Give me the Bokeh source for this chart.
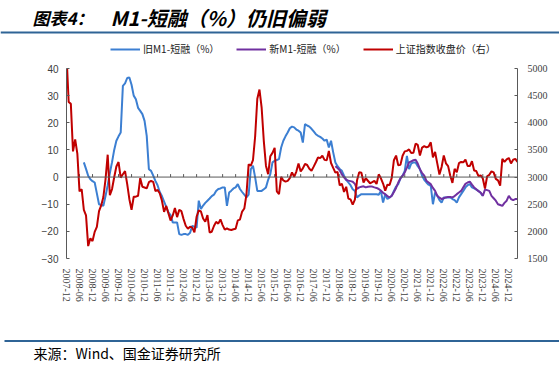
import math
import pandas as pd
from bokeh.plotting import figure
from bokeh.layouts import column
from bokeh.models import (Range1d, LinearAxis, FixedTicker, Label, Legend, LegendItem,
                          Span, BoxAnnotation, Plot)
from bokeh.embed import file_html
from bokeh.resources import INLINE

# ---------------- data ----------------
months = [d.strftime("%Y-%m") for d in pd.date_range("2007-12-01", "2025-04-01", freq="MS")]

old_start = "2008-08"
old_m1_tsf = [
    5.4, 3.0, 0.5, -0.8, -1.5, -2.0, -6.0, -10.0, -10.3, -10.6, -7.0, -3.0,
    1.5, 5.5, 10.0, 13.4, 15.0, 16.4, 33.6, 34.5, 36.5, 36.7, 34.0, 30.0,
    28.7, 25.5, 24.4, 23.2, 20.7, 15.2, 2.9, 2.3, 0.5, -1.4, -3.0, -5.5,
    -7.0, -9.0, -11.0, -13.0, -14.0, -16.7, -16.7, -16.7, -21.0, -21.3, -21.0, -21.0,
    -21.3, -20.5, -18.0, -18.3, -18.6, -8.7, -11.8, -10.5, -9.5, -8.7, -7.9, -7.0,
    -6.5, -5.1, -4.4, -4.2, -3.8, -3.8, -10.6, -5.7, -5.0, -4.2, -3.8, -2.6,
    -4.4, -5.5, -6.5, -7.5, -6.5, 2.9, 4.2, -0.1, -5.1, -5.1, -5.1, -4.5,
    -3.8, -1.0, 1.1, 5.4, 6.0, 6.3, 6.6, 10.9, 13.4, 15.0, 16.4, 18.0,
    18.6, 18.3, 17.5, 17.1, 16.4, 12.7, 19.5, 19.0, 18.6, 17.8, 16.8, 15.8,
    15.2, 14.8, 14.2, 13.4, 13.8, 10.9, 13.4, 9.1, 5.4, 4.0, 3.0, 2.3,
    0.5, -1.0, -2.0, -3.0, -4.5, -5.1, -7.5, -6.8, -6.3, -6.3, -6.3, -6.3,
    -6.3, -6.3, -6.3, -6.3, -6.5, -5.1, -9.4, -6.3, -8.1, -7.5, -6.9, -5.1,
    -3.5, -2.6, -0.5, 0.5, 2.3, 7.8, 2.9, 5.0, 5.4, 5.4, 4.0, 2.9,
    0.5, -1.0, -2.0, -2.8, -3.2, -10.0, -5.7, -6.9, -8.5, -9.4, -7.5, -7.5,
    -7.5, -7.5, -8.1, -8.5, -9.4, -7.5, -6.3, -5.1, -3.8, -3.0, -2.6, -3.8,
    -4.2, -4.6, -5.1, -5.8, -6.9,
]

new_start = "2018-04"
new_m1_tsf = [
    4.0, 3.3, 2.5, 1.0, -0.1, -1.0, -1.3, -1.5, -1.7, -2.5, -4.4, -3.8,
    -3.6, -3.4, -3.8, -3.6, -3.5, -3.5, -3.8, -4.0, -4.4, -5.0, -5.8, -6.3,
    -7.0, -7.5, -6.9, -5.5, -4.0, -2.0, -0.5, 0.5, 1.7, 3.5, 5.4, 5.8,
    6.2, 6.4, 5.0, 2.9, 1.5, 0.5, -1.4, -2.0, -2.6, -4.0, -5.1, -6.9,
    -7.6, -8.1, -7.8, -7.5, -7.3, -7.3, -7.5, -7.0, -6.3, -5.7, -5.1, -3.8,
    -2.5, -2.0, -1.7, -2.8, -3.8, -4.5, -5.2, -5.7, -6.9, -4.6, -4.8, -5.1,
    -6.9, -7.8, -8.7, -10.0, -10.3, -10.6, -9.5, -8.7, -6.9, -8.1, -8.5, -8.1,
    -8.1,
]

sh_close = [
    5261.6,
    4383.4, 4348.5, 3472.7, 3693.1, 3433.4, 2736.1, 2775.7, 2397.4, 2293.8, 1728.8, 1871.2, 1820.8,
    1990.7, 2082.9, 2373.2, 2477.6, 2632.9, 2959.4, 3412.1, 2667.7, 2779.4, 2995.9, 3195.3, 3277.1,
    2989.3, 3051.9, 3109.1, 2870.6, 2592.2, 2398.4, 2637.5, 2638.8, 2655.7, 2978.8, 2820.2, 2808.1,
    2790.7, 2905.1, 2928.1, 2911.5, 2743.5, 2762.1, 2701.7, 2567.3, 2359.2, 2468.3, 2333.4, 2199.4,
    2292.6, 2428.5, 2262.8, 2396.3, 2372.2, 2225.4, 2103.6, 2047.5, 2086.2, 2068.9, 1980.1, 2269.1,
    2385.4, 2365.6, 2236.6, 2177.9, 2300.6, 1979.2, 1993.8, 2098.4, 2174.7, 2141.6, 2220.5, 2116.0,
    2033.1, 2056.3, 2033.3, 2026.4, 2039.2, 2048.3, 2201.6, 2217.2, 2363.9, 2420.2, 2682.8, 3234.7,
    3210.4, 3310.3, 3747.9, 4441.7, 4611.7, 4277.2, 3663.7, 3206.0, 3052.8, 3382.6, 3445.4, 3539.2,
    2737.6, 2688.0, 3003.9, 2938.3, 2916.6, 2929.6, 2979.3, 3085.5, 3004.7, 3100.5, 3250.0, 3103.6,
    3159.2, 3241.7, 3222.5, 3154.7, 3117.2, 3192.4, 3273.0, 3360.8, 3348.9, 3393.3, 3317.2, 3307.2,
    3480.8, 3259.4, 3168.9, 3082.2, 3095.5, 2847.4, 2876.4, 2725.3, 2821.4, 2602.8, 2588.2, 2493.9,
    2584.6, 2941.0, 3090.8, 3078.3, 2898.7, 2978.9, 2932.5, 2886.2, 2905.2, 2929.1, 2872.0, 3050.1,
    2976.5, 2880.3, 2750.3, 2860.1, 2852.4, 2984.7, 3310.0, 3395.7, 3218.1, 3224.5, 3391.8, 3473.1,
    3483.1, 3509.1, 3441.9, 3446.9, 3615.5, 3591.2, 3397.4, 3543.9, 3568.2, 3547.3, 3563.9, 3639.8,
    3361.4, 3462.3, 3252.2, 3047.1, 3186.4, 3398.6, 3253.2, 3202.1, 3024.4, 2893.5, 3151.3, 3089.3,
    3255.7, 3279.6, 3272.9, 3323.3, 3204.6, 3202.1, 3291.0, 3119.9, 3110.5, 3018.8, 3029.7, 2974.9,
    2788.6, 3015.2, 3041.2, 3104.8, 3086.8, 2967.4, 2938.8, 2842.2, 3336.5, 3279.8, 3326.5, 3351.8,
    3250.6, 3320.9, 3335.8, 3279.0,
]

left_ticks = [-30, -20, -10, 0, 10, 20, 30, 40]
right_ticks = [1500, 2000, 2500, 3000, 3500, 4000, 4500, 5000]
tick_step = 6

title_a = "图表4："
title_b = "M1-短融（%）仍旧偏弱"
legend_labels = ["旧M1-短融（%）", "新M1-短融（%）", "上证指数收盘价（右）"]
source_text = "来源：Wind、国金证券研究所"

colors = ["#3C7FD2", "#7030A0", "#C00000"]
rule_col = "#2F6496"
axis_col = "#595959"
lab_col = "#404040"

W = 559
TOP_H = 60
MAIN_H = 260
BOT_H = 365 - TOP_H - MAIN_H
HAS_FRAME_ALIGN = "frame_align" in Plot.properties()


def strip(height):
    f = figure(width=W, height=height, output_backend="svg", toolbar_location=None,
               title=None, x_range=Range1d(0, W), y_range=Range1d(0, height),
               x_axis_type=None, y_axis_type=None,
               min_border_left=0, min_border_right=0, min_border_top=0, min_border_bottom=0)
    f.outline_line_color = None
    f.grid.visible = False
    f.background_fill_color = "white"
    f.border_fill_color = "white"
    if HAS_FRAME_ALIGN:
        f.frame_align = False
    return f


# ---------------- top strip: title, rule, legend ----------------
top = strip(TOP_H)
top.add_layout(Label(x=32, y=TOP_H - 17, text=title_a, text_font="Noto Sans CJK SC",
                     text_font_style="bold italic", text_font_size="17px",
                     text_baseline="middle", text_color="black"))
top.add_layout(Label(x=110, y=TOP_H - 17, text=title_b, text_font="Noto Sans CJK SC",
                     text_font_style="bold italic", text_font_size="20px",
                     text_baseline="middle", text_color="black"))
top.add_layout(BoxAnnotation(left=0, right=W, top=TOP_H - 31, bottom=TOP_H - 33,
                             fill_color=rule_col, fill_alpha=1, line_color=None))

nan = float("nan")
key_renderers = [top.line(x=[nan], y=[nan], line_color=c, line_width=2) for c in colors]
leg = Legend(items=[LegendItem(label=l, renderers=[r]) for l, r in zip(legend_labels, key_renderers)],
             orientation="horizontal", location=(110, TOP_H - 56), margin=0, padding=0,
             spacing=17, glyph_width=30, glyph_height=12, label_standoff=3,
             label_text_font="Noto Sans CJK SC", label_text_font_size="10px",
             label_text_color="#222222", label_height=12,
             border_line_color=None, background_fill_alpha=0)
top.add_layout(leg)

# ---------------- main chart ----------------
idx = list(range(len(months)))
o0 = months.index(old_start)
n0 = months.index(new_start)
old_x = idx[o0:o0 + len(old_m1_tsf)]
new_x = idx[n0:n0 + len(new_m1_tsf)]
tick_idx = idx[::tick_step]
tick_labels = {i: months[i] for i in tick_idx}

p = figure(width=W, height=MAIN_H, output_backend="svg", toolbar_location=None, title=None,
           x_range=Range1d(0, len(months) - 1), y_range=Range1d(-30, 40),
           min_border_left=66, min_border_right=42, min_border_top=8, min_border_bottom=62)
p.background_fill_color = "white"
p.border_fill_color = "white"
p.outline_line_color = None
p.grid.visible = False
p.extra_y_ranges = {"right": Range1d(1500, 5000)}
if HAS_FRAME_ALIGN:
    p.frame_align = False

xa = p.xaxis[0]
xa.ticker = FixedTicker(ticks=tick_idx)
xa.major_label_overrides = tick_labels
xa.major_label_orientation = -math.pi / 2
xa.axis_line_color = None
xa.major_tick_line_color = None
xa.minor_tick_line_color = None
xa.major_label_standoff = 4
xa.major_label_text_font = "Liberation Serif"
xa.major_label_text_font_size = "10px"
xa.major_label_text_color = lab_col

ya = p.yaxis[0]
ya.ticker = FixedTicker(ticks=left_ticks)
ya.axis_line_color = axis_col
ya.major_tick_line_color = axis_col
ya.major_tick_in = 3
ya.major_tick_out = 0
ya.minor_tick_line_color = None
ya.major_label_standoff = 8
ya.major_label_text_font = "Liberation Sans"
ya.major_label_text_font_size = "10px"
ya.major_label_text_color = lab_col

ra = LinearAxis(y_range_name="right", ticker=FixedTicker(ticks=right_ticks))
ra.axis_line_color = axis_col
ra.major_tick_line_color = axis_col
ra.major_tick_in = 3
ra.major_tick_out = 0
ra.minor_tick_line_color = None
ra.major_label_standoff = 10
ra.major_label_text_font = "Liberation Serif"
ra.major_label_text_font_size = "10px"
ra.major_label_text_color = lab_col
p.add_layout(ra, "right")

p.add_layout(Span(location=0, dimension="width", line_color=axis_col, line_width=1))
p.segment(x0=tick_idx, y0=[0] * len(tick_idx), x1=tick_idx, y1=[1.1] * len(tick_idx),
          line_color=axis_col, line_width=1)

p.line(old_x, old_m1_tsf, line_color=colors[0], line_width=2)
p.line(new_x, new_m1_tsf, line_color=colors[1], line_width=2)
p.line(idx, sh_close, line_color=colors[2], line_width=2, y_range_name="right")

# ---------------- bottom strip: rule and source ----------------
bot = strip(BOT_H)
y0 = TOP_H + MAIN_H
bot.add_layout(BoxAnnotation(left=4, right=W, top=BOT_H - (339.5 - y0), bottom=BOT_H - (341.5 - y0),
                             fill_color=rule_col, fill_alpha=1, line_color=None))
bot.add_layout(Label(x=33, y=BOT_H - (352 - y0), text=source_text, text_font="Noto Sans CJK SC",
                     text_font_size="14px", text_baseline="middle", text_color="black"))

layout = column(top, p, bot, spacing=0)
open("out.html", "w").write(file_html(layout, INLINE))
